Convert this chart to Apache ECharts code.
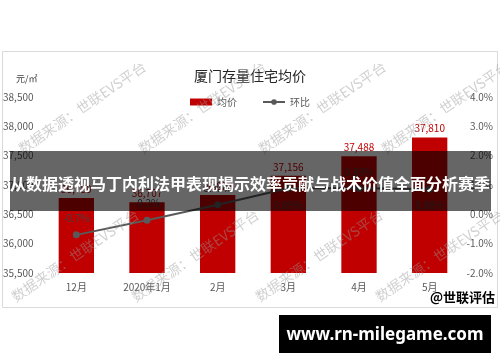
<!DOCTYPE html>
<html><head><meta charset="utf-8">
<script src="https://cdn.jsdelivr.net/npm/echarts@6/dist/echarts.min.js"></script>
<style>html,body{margin:0;padding:0;background:#fff}#c{width:500px;height:362px}</style>
</head><body><div id="c"></div>
<script>
var categories = ['12月', '2020年1月', '2月', '3月', '4月', '5月'];
var avgPrice = [36780, 36707, 36828, 37156, 37488, 37810];
var momChange = [-0.7, -0.2, 0.33, 0.89, 0.89, 0.86];
var momLabelPos = ['top', 'top', 'top', 'bottom', 'top', 'bottom'];
var titleText = '厦门存量住宅均价';
var unitText = '元/㎡';
var bannerText = '从数据透视马丁内利法甲表现揭示效率贡献与战术价值全面分析赛季';
var siteText = 'www.rn-milegame.com';
var brandText = '@世联评估';
var watermarkText = '数据来源：世联EVS平台';

var FONT = '"Noto Sans CJK SC", "Noto Sans", sans-serif';
function fmtNum(v){ return String(v).replace(/\B(?=(\d{3})+(?!\d))/g, ','); }

var wm = [];
[[20,150],[140,150],[260,150],[383,150],[13,298],[133,298],[257,298],[377,298]].forEach(function(p){
  wm.push({type:'text', x:p[0], y:p[1], rotation:0.6, z:50, silent:true,
    style:{text:watermarkText, fill:'rgba(150,150,150,0.45)', font:'14px '+FONT, textAlign:'left', textVerticalAlign:'middle'}});
});

var chart = echarts.init(document.getElementById('c'), null, {renderer:'canvas'});
chart.setOption({
  animation:false,
  textStyle:{fontFamily:FONT},
  title:{text:titleText, left:'center', top:64, textStyle:{fontSize:14, fontWeight:'normal', color:'#262626', fontFamily:FONT}},
  legend:{top:92, left:'center', itemGap:25, itemWidth:22, itemHeight:7,
    textStyle:{fontSize:10, color:'#595959'},
    data:[{name:'均价', icon:'rect'}, {name:'环比'}]},
  grid:{left:41, right:35, top:97, bottom:89},
  xAxis:{type:'category', data:categories,
    axisLine:{show:false}, axisTick:{show:false},
    axisLabel:{color:'#595959', fontSize:10, margin:9}},
  yAxis:[
    {type:'value', min:35500, max:38500, interval:500, splitLine:{show:false},
     axisLine:{show:false}, axisTick:{show:false},
     axisLabel:{color:'#595959', fontSize:10, align:'left', margin:38, formatter:function(v){return fmtNum(v);}}},
    {type:'value', min:-2, max:4, interval:1, splitLine:{show:false},
     axisLine:{show:false}, axisTick:{show:false},
     axisLabel:{color:'#595959', fontSize:10, align:'right', margin:28, formatter:function(v){return v.toFixed(1)+'%';}}}
  ],
  series:[
    {name:'均价', type:'bar', data:avgPrice, barWidth:'50%', itemStyle:{color:'#c00000'},
     label:{show:true, position:'top', distance:4, color:'#c00000', fontSize:10, formatter:function(p){return fmtNum(p.value);}}},
    {name:'环比', type:'line', yAxisIndex:1,
     data:momChange.map(function(v,i){return {value:v, label:{position:momLabelPos[i]}};}),
     symbol:'circle', symbolSize:7, lineStyle:{color:'#595959', width:2}, itemStyle:{color:'#595959'},
     label:{show:true, distance:8, color:'#404040', fontSize:10, formatter:function(p){return p.value+'%';}}}
  ],
  graphic: [
    {type:'rect', shape:{x:2.5, y:51.5, width:495, height:256}, z:-1, silent:true, style:{fill:'none', stroke:'#d9d9d9', lineWidth:1}},
    {type:'text', left:16, top:74, silent:true, style:{text:unitText, fill:'#404040', font:'9px '+FONT}},
    {type:'text', x:495, y:297, silent:true, z:60, style:{text:brandText, fill:'#000', font:'bold 13px '+FONT, textAlign:'right', textVerticalAlign:'middle'}}
  ].concat(wm).concat([
    {type:'rect', shape:{x:10, y:151, width:481, height:60}, z:100, silent:true, style:{fill:'rgba(0,0,0,0.6)'}},
    {type:'text', x:250, y:184, z:101, silent:true, style:{text:bannerText, fill:'#fff', font:'bold 16px '+FONT, textAlign:'center', textVerticalAlign:'middle'}},
    {type:'rect', shape:{x:279, y:315, width:212, height:38}, z:100, silent:true, style:{fill:'#000'}},
    {type:'text', x:385, y:335, z:101, silent:true, style:{text:siteText, fill:'#fff', font:'bold 17px "Noto Sans", sans-serif', textAlign:'center', textVerticalAlign:'middle'}}
  ])
});
</script></body></html>
